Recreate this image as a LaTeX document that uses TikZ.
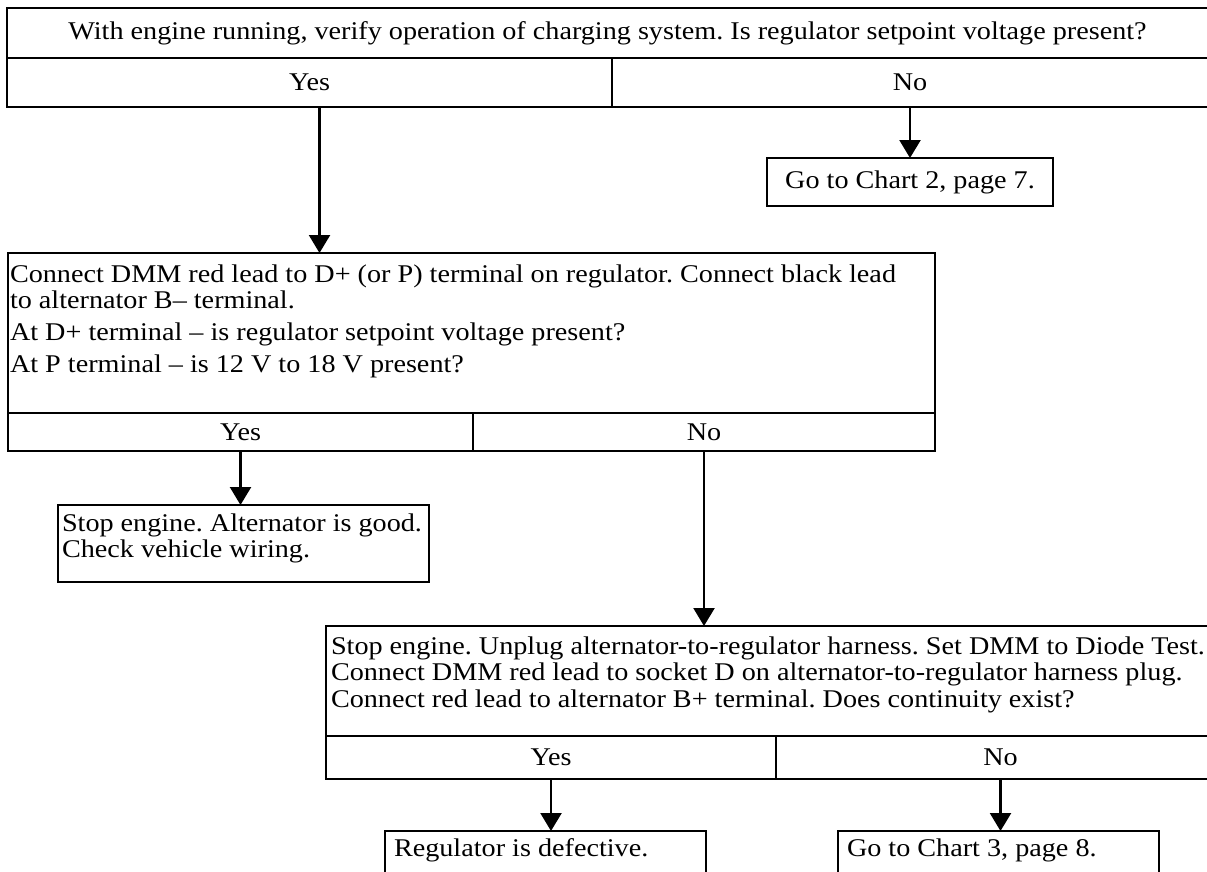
\documentclass[tikz,border=0pt]{standalone}
\usepackage{fontspec}
\setmainfont{Liberation Serif}[FakeStretch=1.105]
\usetikzlibrary{arrows.meta}
\frenchspacing

\tikzset{
 box/.style={draw=black, line width=2.5pt, inner sep=0pt, outer sep=0pt, anchor=north west},
 txt/.style={inner sep=0pt, outer sep=0pt, anchor=north west, align=left},
 arr/.style={line width=2.3pt, -{Triangle[width=21pt,length=18pt]}}
}

\begin{document}
\begin{tikzpicture}[x=1pt,y=-1pt,font=\fontsize{25.5}{26.6}\selectfont]
\useasboundingbox (0,0) rectangle (1207,871);

% first question
\node (Q1) at (7,8) [box,minimum width=1201pt,minimum height=50pt]{With engine running, verify operation of charging system. Is regulator setpoint voltage present?};
\node (Y1) at (Q1.south west) [box,minimum width=605pt,minimum height=49pt]{Yes};
\node (N1) at (Y1.north east) [box,minimum width=596pt,minimum height=49pt]{No};
\node (G2) at (767,158) [box,minimum width=286pt,minimum height=48pt]{Go to Chart 2, page 7.};

% second question
\node (Q2) at (8,253) [box,minimum width=927pt,minimum height=160pt]{};
\node (T2) at ([shift={(2,11.6)}]Q2.north west) [txt]{Connect DMM red lead to D+ (or P) terminal on regulator. Connect black lead\\
to alternator B– terminal.\\[5.4pt]
At D+ terminal – is regulator setpoint voltage present?\\[5.4pt]
At P terminal – is 12 V to 18 V present?};
\node (Y2) at (Q2.south west) [box,minimum width=465pt,minimum height=38pt]{Yes};
\node (N2) at (Y2.north east) [box,minimum width=462pt,minimum height=38pt]{No};

\node (S2) at (58,505) [box,minimum width=371pt,minimum height=77pt]{};
\node (T4) at ([shift={(4,8.6)}]S2.north west) [txt]{Stop engine. Alternator is good.\\Check vehicle wiring.};

% third question
\node (Q3) at (326,626) [box,minimum width=899pt,minimum height=110pt]{};
\node (T3) at ([shift={(5,10.6)}]Q3.north west) [txt]{Stop engine. Unplug alternator-to-regulator harness. Set DMM to Diode Test.\\
Connect DMM red lead to socket D on alternator-to-regulator harness plug.\\
Connect red lead to alternator B+ terminal. Does continuity exist?};
\node (Y3) at (Q3.south west) [box,minimum width=450pt,minimum height=43pt]{Yes};
\node (N3) at (Y3.north east) [box,minimum width=449pt,minimum height=43pt]{No};

\node (R3) at (385,831) [box,minimum width=321pt,minimum height=60pt]{};
\node (T5) at ([shift={(9,7.6)}]R3.north west) [txt]{Regulator is defective.};
\node (G3) at (838,831) [box,minimum width=321pt,minimum height=60pt]{};
\node (T6) at ([shift={(9,7.6)}]G3.north west) [txt]{Go to Chart 3, page 8.};

\draw[arr] ([xshift=10pt]Y1.south) -- ([xshift=10pt]Y1.south |- Q2.north);
\draw[arr] (N1.south) -- (G2.north);
\draw[arr] (Y2.south) -- (Y2.south |- S2.north);
\draw[arr] (N2.south) -- (N2.south |- Q3.north);
\draw[arr] (Y3.south) -- (Y3.south |- R3.north);
\draw[arr] (N3.south) -- (N3.south |- G3.north);

\end{tikzpicture}
\end{document}
